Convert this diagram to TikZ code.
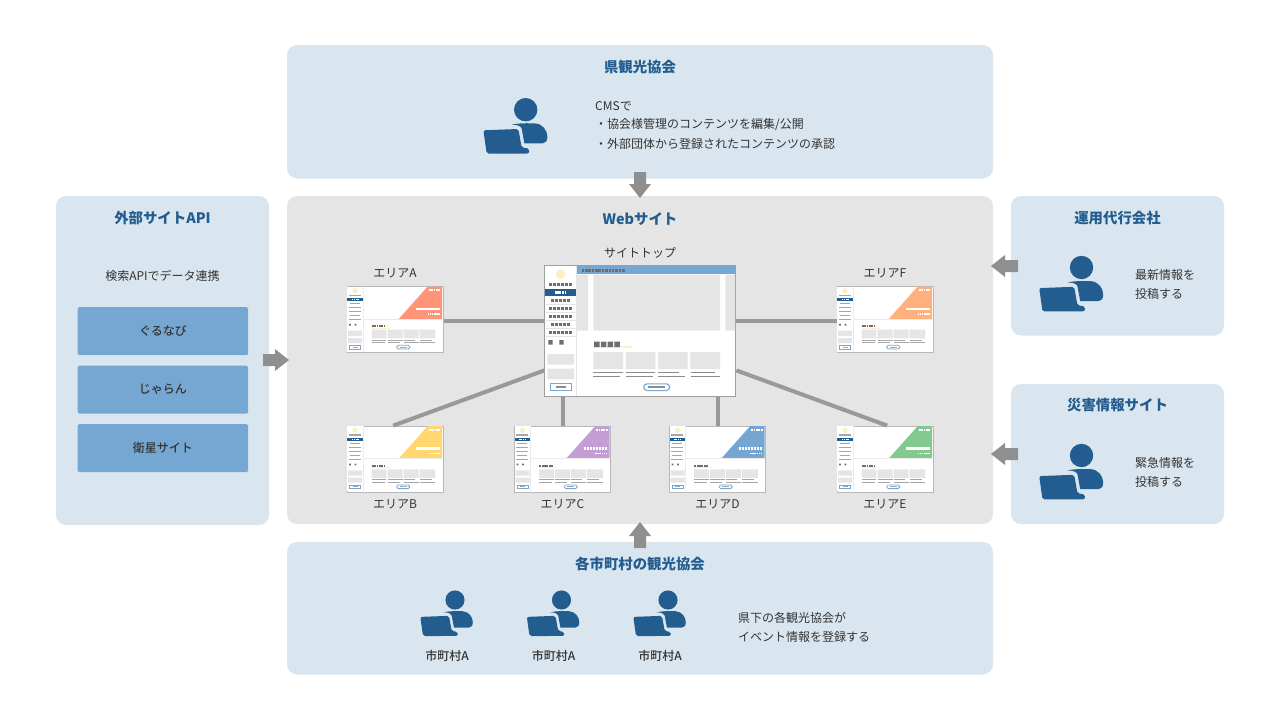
\documentclass[tikz,border=0pt]{standalone}
\usepackage{fontspec}
\setmainfont{Noto Sans CJK JP}
\newfontfamily\jpmed{Noto Sans CJK JP Medium}
\usetikzlibrary{calc}
\definecolor{panelblue}{HTML}{DAE6EF}
\definecolor{panelgray}{HTML}{E5E5E5}
\definecolor{navy}{HTML}{235D8F}
\definecolor{midblue}{HTML}{76A7D2}
\definecolor{arrowgray}{HTML}{8F8F8F}
\definecolor{linkgray}{HTML}{999999}
\definecolor{bodytxt}{HTML}{333333}
\definecolor{paleyellow}{HTML}{FDF0C8}
\definecolor{squaregray}{HTML}{6E6E6E}
\definecolor{cA}{HTML}{FF9478}\definecolor{cF}{HTML}{FFB07C}\definecolor{cB}{HTML}{FFD76E}
\definecolor{cC}{HTML}{C49DD5}\definecolor{cD}{HTML}{75A6D2}\definecolor{cE}{HTML}{83C98F}
\tikzset{
  panel/.style={fill=#1,draw=none,rounded corners=10pt},
  apibox/.style={fill=midblue,draw=none,rounded corners=1.5pt,text=bodytxt,font=\fontsize{12}{14}\selectfont\jpmed,minimum width=170.5pt,minimum height=48pt,inner sep=0pt,anchor=north west},
  titletxt/.style={text=navy,font=\fontsize{14.4}{18}\selectfont\bfseries,inner sep=0pt},
  bodylabel/.style={text=bodytxt,font=\fontsize{12}{14}\selectfont,inner sep=0pt},
  medlabel/.style={text=bodytxt,font=\fontsize{12}{14}\selectfont\jpmed,inner sep=0pt},
  leftlabel/.style={bodylabel,anchor=west},
  sitebox/.style={draw=#1,fill=white,inner sep=0pt,anchor=north west},
  thumbbox/.style={sitebox=black!28,line width=1pt,minimum width=96pt,minimum height=66pt},
  mainbox/.style={sitebox=black!38,line width=1pt,minimum width=191pt,minimum height=131pt},
  link/.style={draw=linkgray,line width=4pt},
  blockarrow/.style={fill=arrowgray,draw=none},
  sq/.style={draw=squaregray,line width=2.6pt,dash pattern=on 2.6pt off .75pt},
  sqfine/.style={draw=black!45,line width=1.6pt},
  wsq/.style={draw=white,line width=#1,dash pattern=on #1 off .6pt},
  thumbbar/.style={draw=black!35,line width=1.4pt},
}
% person at laptop: circle centre, scale
\newcommand\personicon[3]{%
\begin{scope}[shift={(#1,#2)},scale=#3]
  \fill[navy] (0,0) circle (11.7pt);
  \fill[navy] (-14,15) .. controls (-5,13) and (3,13.6) .. (9.3,13.7)
     .. controls (17,14) and (21.7,21) .. (21.7,27)
     .. controls (21.7,31) and (20,33.7) .. (17,33.7) -- (-1.3,33.7) -- (-4,19)
     .. controls (-4.6,16.5) and (-8,15) .. (-14,15) -- cycle;
  \fill[navy,rounded corners=2pt] (-42.3,20.6) -- (-7.3,19.3) -- (-4,38) -- (3.4,38.7) -- (3.4,43.8) -- (-39,44) -- cycle;
\end{scope}}
% block arrow from base to tip
\newcommand\vblock[3]{% x, base y, tip y
  \pgfmathsetmacro\hy{#3-sign(#3-#2)*14}
  \fill[blockarrow] (#1-6,#2) -- (#1+6,#2) -- (#1+6,\hy) -- (#1+11,\hy) -- (#1,#3) -- (#1-11,\hy) -- (#1-6,\hy) -- cycle;}
\newcommand\hblock[3]{% y, base x, tip x
  \pgfmathsetmacro\hx{#3-sign(#3-#2)*14}
  \fill[blockarrow] (#2,#1-6) -- (#2,#1+6) -- (\hx,#1+6) -- (\hx,#1+11) -- (#3,#1) -- (\hx,#1-11) -- (\hx,#1-6) -- cycle;}
% thumbnail contents
\newcommand\thumbinner[3]{%
\begin{scope}[shift={(#1,#2)}]
  \fill[#3] (81,.5) -- (95.5,.5) -- (95.5,33) -- (52,33) -- cycle;
  \draw[black!8,line width=.6pt] (0.5,33) -- (95.5,33);
  \fill[white] (0.5,.5) rectangle (16.5,65.5);
  \draw[black!8,line width=.6pt] (16.5,.5) -- (16.5,65.5);
  \fill[paleyellow] (8.3,4.7) circle (2.7pt);
  \foreach \yy/\xa/\xb in {9.3/2/14,17.7/3/13,21.7/2/14,25.7/2/14,29.7/3/13,33.7/2/14}
     \draw[thumbbar] (\xa,\yy) -- (\xb,\yy);
  \fill[navy] (.7,12) rectangle (16,15.4);
  \draw[wsq=1.3pt] (5,13.7) -- (12,13.7);
  \fill[squaregray] (2.4,37.9) rectangle (4.2,39.7) (7.8,37.9) rectangle (9.6,39.7);
  \fill[panelgray] (1.5,44.7) rectangle (15.5,50) (1.5,52) rectangle (15.5,57);
  \draw[midblue,line width=.7pt,fill=white] (3,59.3) rectangle (14,63);
  \draw[black!35,line width=.7pt] (6,61.1) -- (11,61.1);
  \draw[paleyellow,line width=1pt] (25,42.3) -- (43,42.3);
  \draw[draw=squaregray,line width=1.9pt,dash pattern=on 1.9pt off .5pt] (25,40) -- (38.5,40);
  \fill[panelgray] (25,43.7) rectangle (39.7,52.3) (41,43.7) rectangle (56,52.3) (57,43.7) rectangle (72,52.3) (73,43.7) rectangle (88.7,52.3);
  \foreach \ax/\bx/\cx in {25/39.7/38,41/56/53,57/68/72,73/85/88.5}{
     \draw[black!35,line width=.9pt] (\ax,54.2) -- (\bx,54.2);
     \draw[black!35,line width=.9pt] (\ax,56.4) -- (\cx,56.4);}
  \draw[midblue,line width=.8pt,fill=white,rounded corners=1.5pt] (50,59.3) rectangle (63,63);
  \draw[black!35,line width=.7pt] (53,61.1) -- (60,61.1);
  \draw[wsq=1.8pt] (82,4) -- (93.5,4);
  \draw[wsq=2.4pt] (69.5,23) -- (93.5,23);
  \draw[wsq=1.5pt] (81,28) -- (93.5,28);
\end{scope}}
\begin{document}
\begin{tikzpicture}[x=1pt,y=-1pt]
\useasboundingbox[fill=white] (0,0) rectangle (1280,720);
% panels
\fill[panel=panelblue] (287,45) rectangle (993,178.5);
\fill[panel=panelblue] (56,196) rectangle (269,525);
\fill[panel=panelgray] (287,196) rectangle (993,524);
\fill[panel=panelblue] (1011,196) rectangle (1224,335.5);
\fill[panel=panelblue] (1011,384) rectangle (1224,524);
\fill[panel=panelblue] (287,542) rectangle (993,674.5);
% block arrows
\vblock{640}{172}{198}
\vblock{640}{548}{522}
\hblock{360}{263}{289}
\hblock{266}{1018}{991}
\hblock{454}{1018}{991}
% titles
\node[titletxt] (t1) at (640,67.5) {県観光協会};
\node[titletxt] (t2) at (640,219.5) {Webサイト};
\node[titletxt] (t3) at (162.5,218.5) {外部サイトAPI};
\node[titletxt] (t4) at (1117.5,218.5) {運用代行会社};
\node[titletxt] (t5) at (1117.5,405.5) {災害情報サイト};
\node[titletxt] (t6) at (640,563.5) {各市町村の観光協会};
% icons
\personicon{525.7}{109.7}{1}
\personicon{1081.5}{267.5}{1}
\personicon{1081.5}{455.5}{1}
\personicon{455}{600}{.82}
\personicon{561.5}{600}{.82}
\personicon{668}{600}{.82}
% body text
\node[leftlabel] (b1) at (595,106.5) {CMSで};
\node[leftlabel] (b2) at (595,125) {・協会様管理のコンテンツを編集/公開};
\node[leftlabel] (b3) at (595,143.5) {・外部団体から登録されたコンテンツの承認};
\node[bodylabel] (api) at (162.5,276) {検索APIでデータ連携};
\node[apibox] (g1) at (77.5,307) {ぐるなび};
\node[apibox] (g2) at (77.5,365.5) {じゃらん};
\node[apibox] (g3) at (77.5,424) {衛星サイト};
\node[leftlabel] (r1) at (1135,275) {最新情報を};
\node[leftlabel] (r2) at (1135,294) {投稿する};
\node[leftlabel] (r3) at (1135,463) {緊急情報を};
\node[leftlabel] (r4) at (1135,482) {投稿する};
\node[leftlabel] (s1) at (738,618) {県下の各観光協会が};
\node[leftlabel] (s2) at (738,637) {イベント情報を登録する};
\node[medlabel] (m1) at (447,656) {市町村A};
\node[medlabel] (m2) at (553.5,656) {市町村A};
\node[medlabel] (m3) at (660,656) {市町村A};
% site nodes
\node[mainbox] (top) at (544.4,265.4) {};
\node[thumbbox] (A) at (346.7,286) {};
\node[thumbbox] (F) at (836.7,286) {};
\node[thumbbox] (B) at (346.7,425.6) {};
\node[thumbbox] (C) at (514.2,425.6) {};
\node[thumbbox] (D) at (669.2,425.6) {};
\node[thumbbox] (E) at (836.7,425.6) {};
% connectors
\coordinate (tw1) at ($(top.south west)+(0,-76)$);
\coordinate (te1) at ($(top.south east)+(0,-76)$);
\coordinate (tw2) at ($(top.south west)+(0,-27)$);
\coordinate (te2) at ($(top.south east)+(0,-27)$);
\draw[link] (A.east |- tw1) -- (tw1);
\draw[link] (F.west |- te1) -- (te1);
\draw[link] ($(B.north)+(-2,0)$) -- (tw2);
\draw[link] ($(E.north)+(2,0)$) -- (te2);
\draw[link] (C.north) -- (C.north |- top.south);
\draw[link] (D.north) -- (D.north |- top.south);
\node[bodylabel] (lt) at (640,253) {サイトトップ};
\node[bodylabel] (la) at (395,273) {エリアA};
\node[bodylabel] (lf) at (885,273) {エリアF};
\node[bodylabel] (lb) at (395,504) {エリアB};
\node[bodylabel] (lc) at (562.5,504) {エリアC};
\node[bodylabel] (ld) at (717.5,504) {エリアD};
\node[bodylabel] (le) at (885,504) {エリアE};
% thumbnails
\thumbinner{346.7}{286}{cA}
\thumbinner{836.7}{286}{cF}
\thumbinner{346.7}{425.6}{cB}
\thumbinner{514.2}{425.6}{cC}
\thumbinner{669.2}{425.6}{cD}
\thumbinner{836.7}{425.6}{cE}
% main site contents
\begin{scope}
  \fill[midblue] (576.7,266) rectangle (735,274.4);
  \draw[sq] (581.7,270.3) -- (625,270.3);
  \fill[panelgray] (577,274.6) rectangle (588,330.7) (593.3,274.6) rectangle (720,330.7) (725.3,274.6) rectangle (735,330.7);
  \draw[black!10,line width=.7pt] (576.7,266) -- (576.7,396);
  \fill[paleyellow] (560.7,274.3) circle (5pt);
  \foreach \yy/\xa/\xb in {284.3/548.7/572.3,300.3/550.7/570.3,308.3/548.7/572.3,316.3/548.7/572.3,324.3/550.7/570.3,332.3/548.7/572.3}
     \draw[draw=squaregray,line width=3pt,dash pattern=on 3pt off 1pt] (\xa,\yy) -- (\xb,\yy);
  \foreach \yy in {304.3,312.3,320.3,328.3,336.3}
     \draw[black!10,line width=.6pt] (545.5,\yy) -- (576,\yy);
  \fill[navy] (545.4,289.3) rectangle (576,296);
  \draw[wsq=2.8pt] (554.7,292.6) -- (566,292.6);
  \fill[squaregray] (548.3,340.2) rectangle (552.7,344.6) (559.3,340.2) rectangle (563.7,344.6);
  \fill[panelgray] (547.3,354) rectangle (574,364.7) (547.3,368.7) rectangle (574,379.3);
  \draw[midblue,line width=1pt,fill=white] (550.5,383.8) rectangle (571,390.6);
  \draw[sqfine] (555.5,387.2) -- (566,387.2);
  \draw[paleyellow,line width=2pt] (594,346.8) -- (631.7,346.8);
  \fill[squaregray] (594,341.5) rectangle (599.5,347) (600.8,341.5) rectangle (606.3,347) (607.5,341.5) rectangle (613,347) (614.3,341.5) rectangle (619.8,347);
  \fill[panelgray] (593.3,352) rectangle (623,369) (625.7,352) rectangle (655.3,369) (658,352) rectangle (687.7,369) (690.3,352) rectangle (720,369);
  \foreach \ax/\bx/\cx in {593.3/623/620,625.8/655.3/652.6,658/679.3/685,690.6/714.7/720}{
     \draw[sqfine] (\ax,372.4) -- (\bx,372.4);
     \draw[sqfine] (\ax,376.5) -- (\cx,376.5);}
  \draw[midblue,line width=1.1pt,fill=white,rounded corners=3.4pt] (643.7,383.8) rectangle (669.7,390.6);
  \draw[sqfine] (648,387.2) -- (665,387.2);
\end{scope}
\end{tikzpicture}
\end{document}
